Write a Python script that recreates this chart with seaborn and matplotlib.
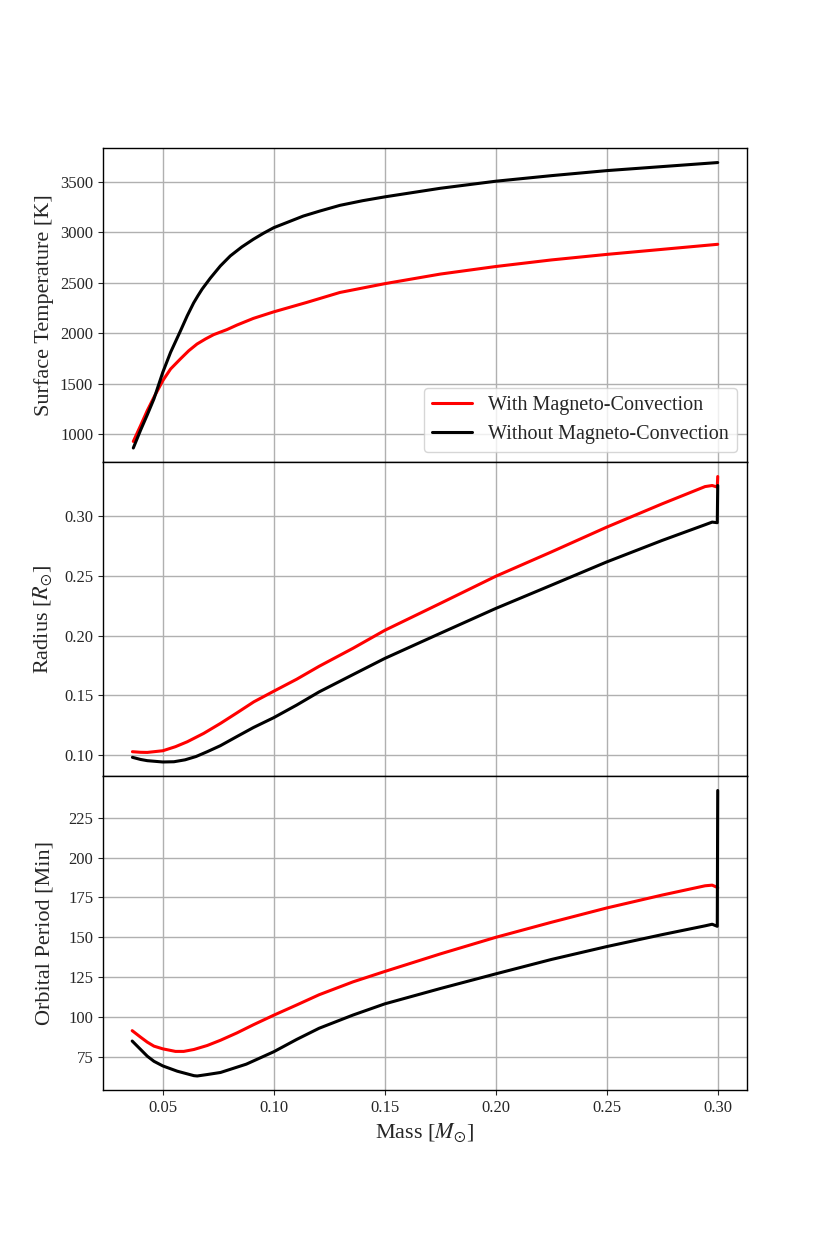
import numpy as np
import pandas as pd
import matplotlib
matplotlib.use("Agg")
import matplotlib.pyplot as plt
import seaborn as sns

# ---- data ----
mass_temp_red = [0.0367, 0.040, 0.043, 0.046, 0.05, 0.0535, 0.0579, 0.0617, 0.0654, 0.0692, 0.0729,
                 0.0789, 0.0834, 0.0908, 0.10, 0.1148, 0.1298, 0.15, 0.175, 0.20, 0.225, 0.25,
                 0.275, 0.30]
temp_red = [927, 1085, 1233, 1365, 1530, 1645, 1744, 1826, 1892, 1942, 1985,
            2035, 2080, 2146, 2211, 2304, 2403, 2490, 2585, 2660, 2725, 2780,
            2830, 2880]

mass_temp_black = [0.0367, 0.040, 0.043, 0.046, 0.05, 0.0535, 0.0579, 0.061, 0.0639, 0.0658, 0.0677,
                   0.0714, 0.0759, 0.0804, 0.0856, 0.0908, 0.0953, 0.10, 0.1058, 0.1133, 0.1208,
                   0.1298, 0.14, 0.15, 0.175, 0.20, 0.225, 0.25, 0.275, 0.30]
temp_black = [862, 1040, 1191, 1349, 1613, 1810, 2020, 2172, 2300, 2370, 2436,
              2545, 2665, 2765, 2854, 2930, 2989, 3045, 3095, 3160, 3210,
              3266, 3312, 3350, 3435, 3505, 3560, 3610, 3650, 3690]

mass_rad_red = [0.0363, 0.040, 0.043, 0.05, 0.0557, 0.061, 0.0684, 0.076, 0.0834, 0.091, 0.10,
                0.1103, 0.1204, 0.1357, 0.15, 0.175, 0.20, 0.225, 0.25, 0.275, 0.2943,
                0.2975, 0.2998, 0.30]
rad_red = [0.1030, 0.1025, 0.1024, 0.1038, 0.1072, 0.1113, 0.1183, 0.1267, 0.1355, 0.1447, 0.1536,
           0.1636, 0.1744, 0.1895, 0.2045, 0.2270, 0.2497, 0.2700, 0.2908, 0.3103, 0.3247,
           0.3256, 0.3243, 0.3331]

mass_rad_black = [0.0363, 0.040, 0.043, 0.05, 0.055, 0.060, 0.065, 0.070, 0.0759, 0.0833, 0.0908,
                  0.10, 0.1103, 0.1204, 0.1357, 0.15, 0.175, 0.20, 0.225, 0.25, 0.275,
                  0.2943, 0.2975, 0.2998, 0.30]
rad_black = [0.0983, 0.0965, 0.0955, 0.0944, 0.0946, 0.0962, 0.0990, 0.1030, 0.1080, 0.1156, 0.1232,
             0.1315, 0.1420, 0.1530, 0.1675, 0.1810, 0.2020, 0.2228, 0.2422, 0.2617, 0.2797,
             0.2928, 0.2950, 0.2945, 0.3256]

mass_per_red = [0.0362, 0.040, 0.043, 0.046, 0.05, 0.0557, 0.0594, 0.064, 0.07, 0.076, 0.0834,
                0.0908, 0.10, 0.1103, 0.1204, 0.1357, 0.15, 0.175, 0.20, 0.225, 0.25,
                0.275, 0.2943, 0.2975, 0.2998, 0.30]
per_red = [91.5, 87.4, 84.3, 81.8, 80.1, 78.5, 78.5, 79.7, 82.2, 85.5, 90.1,
           95.2, 101.2, 107.6, 114.0, 122.1, 128.6, 139.6, 150.0, 159.4, 168.4,
           176.5, 182.3, 182.7, 181.3, 181.0]

mass_per_black = [0.0362, 0.040, 0.043, 0.046, 0.05, 0.0565, 0.064, 0.0655, 0.07, 0.076, 0.0876,
                  0.10, 0.1103, 0.1204, 0.1357, 0.15, 0.175, 0.20, 0.225, 0.25, 0.275,
                  0.2943, 0.2975, 0.2998, 0.30]
per_black = [85.0, 79.7, 75.5, 72.3, 69.4, 66.1, 63.3, 63.1, 64.0, 65.3, 70.5,
             78.3, 86.0, 93.0, 101.3, 108.3, 117.9, 127.1, 136.1, 144.2, 151.7,
             157.2, 158.2, 156.9, 242.0]

label_red = "With Magneto-Convection"
label_black = "Without Magneto-Convection"

ylabels = ["Surface Temperature [K]", r"Radius [$R_{\odot}$]", "Orbital Period [Min]"]
xlabel = r"Mass [$M_{\odot}$]"
xticks = [0.05, 0.10, 0.15, 0.20, 0.25, 0.30]
xticklabels = ["0.05", "0.10", "0.15", "0.20", "0.25", "0.30"]

# ---- style ----
sns.set_style("white")
plt.rcParams["font.family"] = ["Liberation Serif", "DejaVu Serif"]
plt.rcParams["mathtext.fontset"] = "stix"

fig, axes = plt.subplots(3, 1, figsize=(8.3, 12.46), dpi=100, sharex=True)
fig.subplots_adjust(left=0.124, right=0.9, top=0.881, bottom=0.125, hspace=0)

panels = [
    (mass_temp_red, temp_red, mass_temp_black, temp_black),
    (mass_rad_red, rad_red, mass_rad_black, rad_black),
    (mass_per_red, per_red, mass_per_black, per_black),
]

for ax, (mr, vr, mb, vb), yl in zip(axes, panels, ylabels):
    dr = pd.DataFrame({"m": mr, "v": vr})
    db = pd.DataFrame({"m": mb, "v": vb})
    sns.lineplot(data=dr, x="m", y="v", ax=ax, color="red", lw=2.2, sort=False,
                 estimator=None, label=label_red)
    sns.lineplot(data=db, x="m", y="v", ax=ax, color="black", lw=2.2, sort=False,
                 estimator=None, label=label_black)
    ax.grid(True, color="#b0b0b0", lw=1.0)
    ax.set_axisbelow(True)
    ax.set_ylabel(yl, fontsize=16)
    ax.set_xlabel("")
    ax.tick_params(axis="both", labelsize=12, direction="out", length=3.5, width=0.8,
                   left=True, bottom=True)
    for s in ax.spines.values():
        s.set_color("black")
        s.set_linewidth(1.0)
    if ax is not axes[0]:
        leg = ax.get_legend()
        if leg:
            leg.remove()

axes[0].legend(loc="lower right", fontsize=14.5, framealpha=0.8)
axes[1].set_yticks([0.10, 0.15, 0.20, 0.25, 0.30])
axes[2].set_yticks([75, 100, 125, 150, 175, 200, 225])
axes[2].set_xticks(xticks)
axes[2].set_xticklabels(xticklabels)
axes[2].set_xlabel(xlabel, fontsize=16)
fig.align_ylabels(axes)

fig.savefig("out.png", dpi=100)
